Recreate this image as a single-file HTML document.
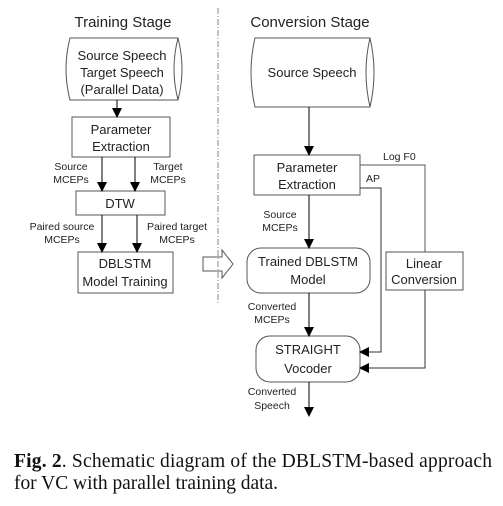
<!DOCTYPE html>
<html><head><meta charset="utf-8"><style>
html,body{margin:0;padding:0;background:#fff;width:503px;height:506px;overflow:hidden}
svg{display:block}
.t{font-family:"Liberation Sans",sans-serif;fill:#222}
</style></head><body>
<svg width="503" height="506" viewBox="0 0 503 506">
<defs><marker id="a" markerWidth="10" markerHeight="10" refX="9" refY="5" orient="auto" markerUnits="userSpaceOnUse"><path d="M0,0 L10,5 L0,10 z" fill="#000"/></marker></defs>
<g stroke="#555" fill="none" stroke-width="1">
<path d="M70,38 L178,38 Q186,69 178,100 L70,100 Q62,69 70,38 Z"/>
<path d="M178,38 Q170,69 178,100"/>
<rect x="72" y="117" width="98" height="40"/>
<rect x="76" y="191" width="89" height="24"/>
<rect x="78" y="252" width="95" height="41"/>
<line x1="218" y1="8" x2="218" y2="305" stroke-dasharray="6,2,1,2" stroke="#888"/>
<path d="M203,257 L222,257 L222,250 L233,264 L222,278 L222,271 L203,271 Z"/>
<path d="M255,38 L370,38 Q378,72 370,107 L255,107 Q247,72 255,38 Z"/>
<path d="M370,38 Q362,72 370,107"/>
<rect x="254" y="155" width="106" height="40"/>
<rect x="247" y="248" width="123" height="45" rx="14"/>
<rect x="386" y="252" width="77" height="38"/>
<rect x="256" y="336" width="104" height="46" rx="14"/>
<path d="M360,165 L425,165 L425,252"/>
<path d="M425,290 L425,368 L360,368" marker-end="url(#a)" stroke="#333"/>
<path d="M360,188 L381,188 L381,352 L360,352" marker-end="url(#a)" stroke="#333"/>
</g>
<g stroke="#000" stroke-width="1">
<line x1="117" y1="100" x2="117" y2="117" marker-end="url(#a)"/>
<line x1="102" y1="157" x2="102" y2="191" marker-end="url(#a)"/>
<line x1="135" y1="157" x2="135" y2="191" marker-end="url(#a)"/>
<line x1="102" y1="215" x2="102" y2="252" marker-end="url(#a)"/>
<line x1="137" y1="215" x2="137" y2="252" marker-end="url(#a)"/>
<line x1="309" y1="107" x2="309" y2="155" marker-end="url(#a)"/>
<line x1="309" y1="195" x2="309" y2="248" marker-end="url(#a)"/>
<line x1="309" y1="293" x2="309" y2="336" marker-end="url(#a)"/>
<line x1="309" y1="382" x2="309" y2="416" marker-end="url(#a)"/>
</g>
<g class="t" text-anchor="middle">
<text x="123" y="27" font-size="15">Training Stage</text>
<text x="310" y="27" font-size="15">Conversion Stage</text>
<text x="122" y="60" font-size="13">Source Speech</text>
<text x="122" y="77" font-size="13">Target Speech</text>
<text x="122" y="94" font-size="13">(Parallel Data)</text>
<text x="121" y="134" font-size="13">Parameter</text>
<text x="121" y="151" font-size="13">Extraction</text>
<text x="120" y="208" font-size="13">DTW</text>
<text x="125" y="268" font-size="13">DBLSTM</text>
<text x="125" y="286" font-size="13">Model Training</text>
<text x="312" y="77" font-size="13">Source Speech</text>
<text x="307" y="172" font-size="13">Parameter</text>
<text x="307" y="189" font-size="13">Extraction</text>
<text x="308" y="266" font-size="13">Trained DBLSTM</text>
<text x="308" y="284" font-size="13">Model</text>
<text x="308" y="354" font-size="13">STRAIGHT</text>
<text x="308" y="373" font-size="13">Vocoder</text>
<text x="424" y="268" font-size="13">Linear</text>
<text x="424" y="284" font-size="13">Conversion</text>
<g font-size="10.5">
<text x="71" y="170">Source</text><text x="71" y="183">MCEPs</text>
<text x="168" y="170">Target</text><text x="168" y="183">MCEPs</text>
<text x="62" y="230">Paired source</text><text x="62" y="243">MCEPs</text>
<text x="177" y="230">Paired target</text><text x="177" y="243">MCEPs</text>
<text x="280" y="218">Source</text><text x="280" y="231">MCEPs</text>
<text x="272" y="310">Converted</text><text x="272" y="323">MCEPs</text>
<text x="272" y="395">Converted</text><text x="272" y="409">Speech</text>
</g>
<text x="383" y="160" font-size="10.5" text-anchor="start">Log F0</text>
<text x="366" y="182" font-size="10.5" text-anchor="start">AP</text>
</g>
<g font-family="Liberation Serif,serif" font-size="19.5" fill="#111">
<text x="14" y="467" textLength="478" lengthAdjust="spacing"><tspan font-weight="bold">Fig. 2</tspan>.  Schematic diagram of the DBLSTM-based approach</text>
<text x="14" y="489" textLength="264" lengthAdjust="spacing">for VC with parallel training data.</text>
</g>
</svg>
</body></html>
